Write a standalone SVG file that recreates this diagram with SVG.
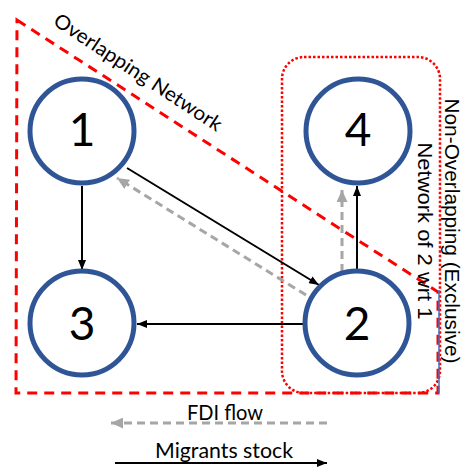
<svg xmlns="http://www.w3.org/2000/svg" width="465" height="468" viewBox="0 0 465 468">
<defs>
<style>
.node{fill:#fff;stroke:#2f5597;stroke-width:5}
.num{font-family:Lato,"Liberation Sans",sans-serif;font-size:46px;fill:#000;text-anchor:middle}
.blk{stroke:#000;stroke-width:2;fill:none}
.gry{stroke:#a6a6a6;stroke-width:3;fill:none;stroke-dasharray:8 5}
.lbl{font-family:Lato,"Liberation Sans",sans-serif;fill:#000}
.vt{font-family:"Liberation Sans",Arial,sans-serif;font-size:20px;fill:#000;text-anchor:middle}
</style>
<marker id="ab" markerUnits="userSpaceOnUse" markerWidth="10" markerHeight="8" refX="10" refY="4" orient="auto">
<path d="M0,0 L10,4 L0,8 z" fill="#000"/>
</marker>
<marker id="ag" markerUnits="userSpaceOnUse" markerWidth="12" markerHeight="11" refX="12" refY="5.5" orient="auto">
<path d="M0,0 L12,5.5 L0,11 z" fill="#a6a6a6"/>
</marker>
</defs>
<rect width="465" height="468" fill="#fff"/>
<g id="regions">
<path d="M17,20 L438,292 L438,393 L16,393 Z" fill="none" stroke="#ff0000" stroke-width="3" stroke-dasharray="10 7"/>
<rect x="282" y="57" width="158" height="336" rx="22" fill="none" stroke="#ff0000" stroke-width="2.5" stroke-dasharray="2.5 2"/>
<line x1="439" y1="290" x2="439" y2="393" stroke="#4472c4" stroke-width="1.5"/>
<text class="lbl" font-size="20" transform="translate(52,24) rotate(33.3)" textLength="197" lengthAdjust="spacingAndGlyphs">Overlapping Network</text>
<text class="vt" transform="translate(445,231) rotate(90)" textLength="265" lengthAdjust="spacingAndGlyphs">Non-Overlapping (Exclusive)</text>
<text class="vt" transform="translate(418,231) rotate(90)" textLength="177" lengthAdjust="spacingAndGlyphs">Network of 2 wrt 1</text>
</g>
<g id="connectors">
<line class="blk" x1="82" y1="186" x2="82" y2="270" marker-end="url(#ab)"/>
<line class="blk" x1="303" y1="324" x2="137" y2="324" marker-end="url(#ab)"/>
<line class="blk" x1="127" y1="168" x2="319" y2="285" marker-end="url(#ab)"/>
<line class="gry" x1="306" y1="295" x2="117" y2="178" marker-end="url(#ag)"/>
<line class="blk" x1="357" y1="269" x2="357" y2="186" marker-end="url(#ab)"/>
<line class="gry" x1="342" y1="272" x2="342" y2="190" marker-end="url(#ag)"/>
</g>
<g id="node1"><circle class="node" cx="82" cy="131" r="52"/><text class="num" x="82" y="146">1</text></g>
<g id="node2"><circle class="node" cx="357" cy="323" r="52"/><text class="num" x="357" y="340">2</text></g>
<g id="node3"><circle class="node" cx="82" cy="323" r="52"/><text class="num" x="82" y="340">3</text></g>
<g id="node4"><circle class="node" cx="358" cy="131" r="52"/><text class="num" x="358" y="146">4</text></g>
<g id="legend">
<text class="lbl" font-size="21" x="225" y="420" text-anchor="middle" textLength="76" lengthAdjust="spacingAndGlyphs">FDI flow</text>
<line class="gry" x1="327" y1="423" x2="111" y2="423" marker-end="url(#ag)"/>
<text class="lbl" font-size="22" x="224" y="458" text-anchor="middle" textLength="138" lengthAdjust="spacingAndGlyphs">Migrants stock</text>
<line class="blk" x1="115" y1="463" x2="327" y2="463" marker-end="url(#ab)"/>
</g>
</svg>
